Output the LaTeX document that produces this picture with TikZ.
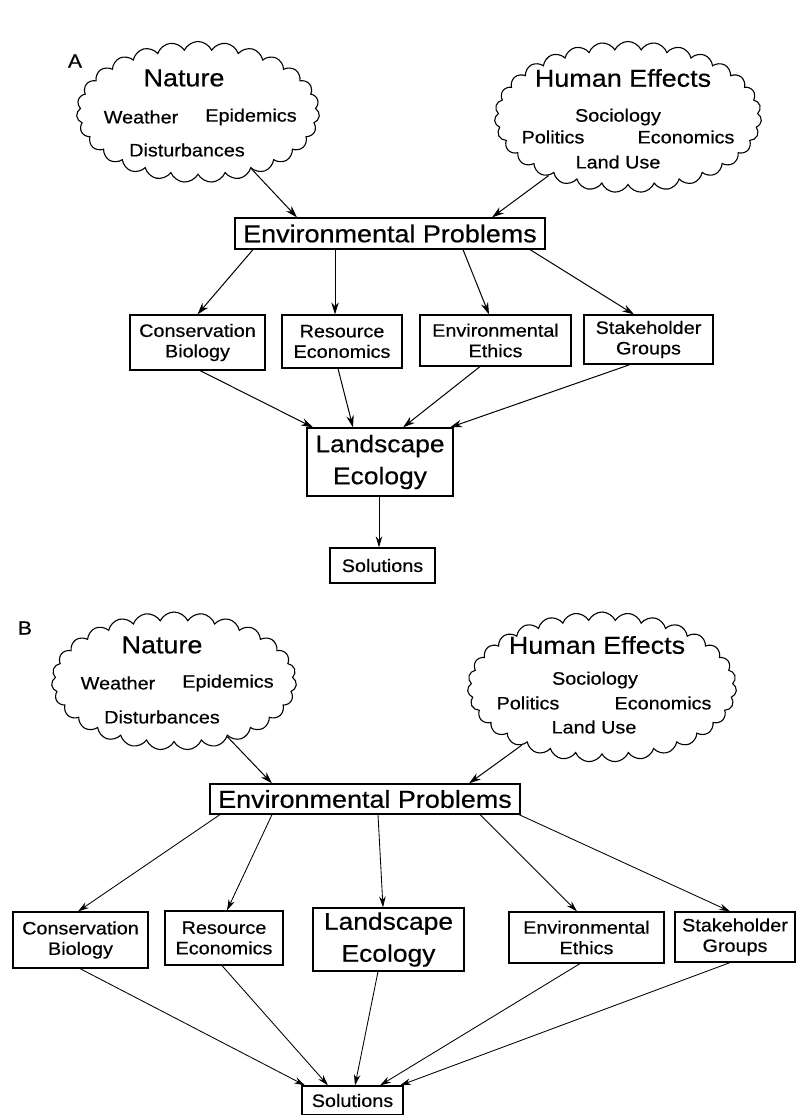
\documentclass[tikz,border=0pt]{standalone}
\usepackage{fontspec}
\setmainfont[FakeStretch=1.1,FakeBold=0.5]{Liberation Sans}
\usetikzlibrary{shapes.symbols,arrows.meta}
\begin{document}
\begin{tikzpicture}[x=1pt,y=-1pt,
  big/.style={font=\fontsize{24.5}{29}\selectfont},
  land/.style={font=\fontsize{24}{32}\selectfont},
  sm/.style={font=\fontsize{18}{20.5}\selectfont},
  lab/.style={font=\fontsize{19}{20}\selectfont},
  box/.style={draw, line width=1.2pt, inner sep=0pt, align=center},
  cloudy/.style={draw, cloud, cloud puffs=#1, cloud puff arc=130, cloud ignores aspect, inner sep=0pt, line width=1.1pt},
  arr/.style={line width=1pt, -{Stealth[length=12pt,width=7.5pt]}},
  arrs/.style={line width=0.85pt, -{Stealth[length=11pt,width=6.5pt]}},
]
\useasboundingbox (0,0) rectangle (797,1115);

% ---------------- A ----------------
\node[lab] (labA) at (75,61) {A};
\node[cloudy=27, minimum width=243pt, minimum height=141pt] (natA) at (198,112) {};
\node[big] (natAt) at (184,78) {Nature};
\node[sm] (natA1) at (141,117) {Weather};
\node[sm] (natA2) at (251,117) {Epidemics};
\node[sm] (natA3) at (187,150) {Disturbances};

\node[cloudy=31, minimum width=267pt, minimum height=151pt] (humA) at (628,117) {};
\node[big] (humAt) at (623,78) {Human Effects};
\node[sm] (humA1) at (618,117) {Sociology};
\node[sm] (humA2) at (553,137) {Politics};
\node[sm] (humA3) at (686,137) {Economics};
\node[sm] (humA4) at (618,162) {Land Use};

\node[box, big, minimum width=310pt, minimum height=31pt] (envA) at (390,233.5) {Environmental Problems};

\node[box, sm, minimum width=135pt, minimum height=55pt] (consA) at (197.5,342.5) {Conservation\\Biology};
\node[box, sm, minimum width=120pt, minimum height=53pt] (resA) at (342,341.5) {Resource\\Economics};
\node[box, sm, minimum width=151pt, minimum height=51pt] (ethA) at (495.5,340.5) {Environmental\\Ethics};
\node[box, sm, minimum width=129pt, minimum height=49pt] (stkA) at (648.5,339.5) {Stakeholder\\Groups};

\node[box, land, minimum width=146pt, minimum height=68pt] (landA) at (380,462) {Landscape\\Ecology};
\node[box, sm, minimum width=105pt, minimum height=35pt] (solA) at (382.5,565.5) {Solutions};

\draw[arr] (natA) -- ([xshift=-93pt]envA.north);
\draw[arr] (humA) -- ([xshift=102pt]envA.north);

\draw[arr] ([xshift=-137pt]envA.south) -- (consA.north);
\draw[arr] ([xshift=-55pt]envA.south) -- ([xshift=-7pt]resA.north);
\draw[arr] ([xshift=73pt]envA.south) -- ([xshift=-6.5pt]ethA.north);
\draw[arr] ([xshift=140pt]envA.south) -- ([xshift=-14.5pt]stkA.north);

\draw[arr] ([xshift=2.5pt]consA.south) -- ([xshift=-67pt]landA.north);
\draw[arr] ([xshift=-4pt]resA.south) -- ([xshift=-27pt]landA.north);
\draw[arr] ([xshift=-15.5pt]ethA.south) -- ([xshift=23pt]landA.north);
\draw[arr] ([xshift=-18.5pt]stkA.south) -- ([xshift=70pt]landA.north);

\draw[arrs] ([xshift=-1pt]landA.south) -- ([xshift=-3.5pt]solA.north);

% ---------------- B ----------------
\node[lab] (labB) at (25,628) {B};
\node[cloudy=27, minimum width=245pt, minimum height=138pt] (natB) at (174,681) {};
\node[big] (natBt) at (162,645) {Nature};
\node[sm] (natB1) at (118,683) {Weather};
\node[sm] (natB2) at (228,683) {Epidemics};
\node[sm] (natB3) at (162,717) {Disturbances};

\node[cloudy=31, minimum width=269pt, minimum height=150pt] (humB) at (602,687) {};
\node[big] (humBt) at (597,645) {Human Effects};
\node[sm] (humB1) at (595,680) {Sociology};
\node[sm] (humB2) at (528,703) {Politics};
\node[sm] (humB3) at (663,703) {Economics};
\node[sm] (humB4) at (594,727) {Land Use};

\node[box, big, minimum width=310pt, minimum height=30pt] (envB) at (365,799) {Environmental Problems};

\node[box, sm, minimum width=135pt, minimum height=56pt] (consB) at (80.5,940) {Conservation\\Biology};
\node[box, sm, minimum width=118pt, minimum height=54pt] (resB) at (224,938) {Resource\\Economics};
\node[box, land, minimum width=151pt, minimum height=63pt] (landB) at (388.5,939.5) {Landscape\\Ecology};
\node[box, sm, minimum width=155pt, minimum height=51pt] (ethB) at (586.5,937.5) {Environmental\\Ethics};
\node[box, sm, minimum width=120pt, minimum height=50pt] (stkB) at (735,937) {Stakeholder\\Groups};

\node[box, sm, minimum width=101pt, minimum height=29pt] (solB) at (352.5,1100.5) {Solutions};

\draw[arr] (natB) -- ([xshift=-93pt]envB.north);
\draw[arr] (humB) -- ([xshift=104pt]envB.north);

\draw[arrs] ([xshift=-145pt]envB.south) -- ([xshift=-2.5pt]consB.north);
\draw[arrs] ([xshift=-93pt]envB.south) -- ([xshift=3pt]resB.north);
\draw[arrs] ([xshift=13pt]envB.south) -- ([xshift=-5.5pt]landB.north);
\draw[arrs] ([xshift=115pt]envB.south) -- ([xshift=-9.5pt]ethB.north);
\draw[arrs] ([xshift=154pt]envB.south) -- ([xshift=-5pt]stkB.north);

\draw[arrs] ([xshift=-0.5pt]consB.south) -- ([xshift=-47.5pt]solB.north);
\draw[arrs] ([xshift=-2pt]resB.south) -- ([xshift=-24.5pt]solB.north);
\draw[arrs] ([xshift=-10.5pt]landB.south) -- ([xshift=2.5pt]solB.north);
\draw[arrs] ([xshift=-6.5pt]ethB.south) -- ([xshift=27.5pt]solB.north);
\draw[arrs] ([xshift=-5pt]stkB.south) -- ([xshift=47.5pt]solB.north);
\end{tikzpicture}
\end{document}
